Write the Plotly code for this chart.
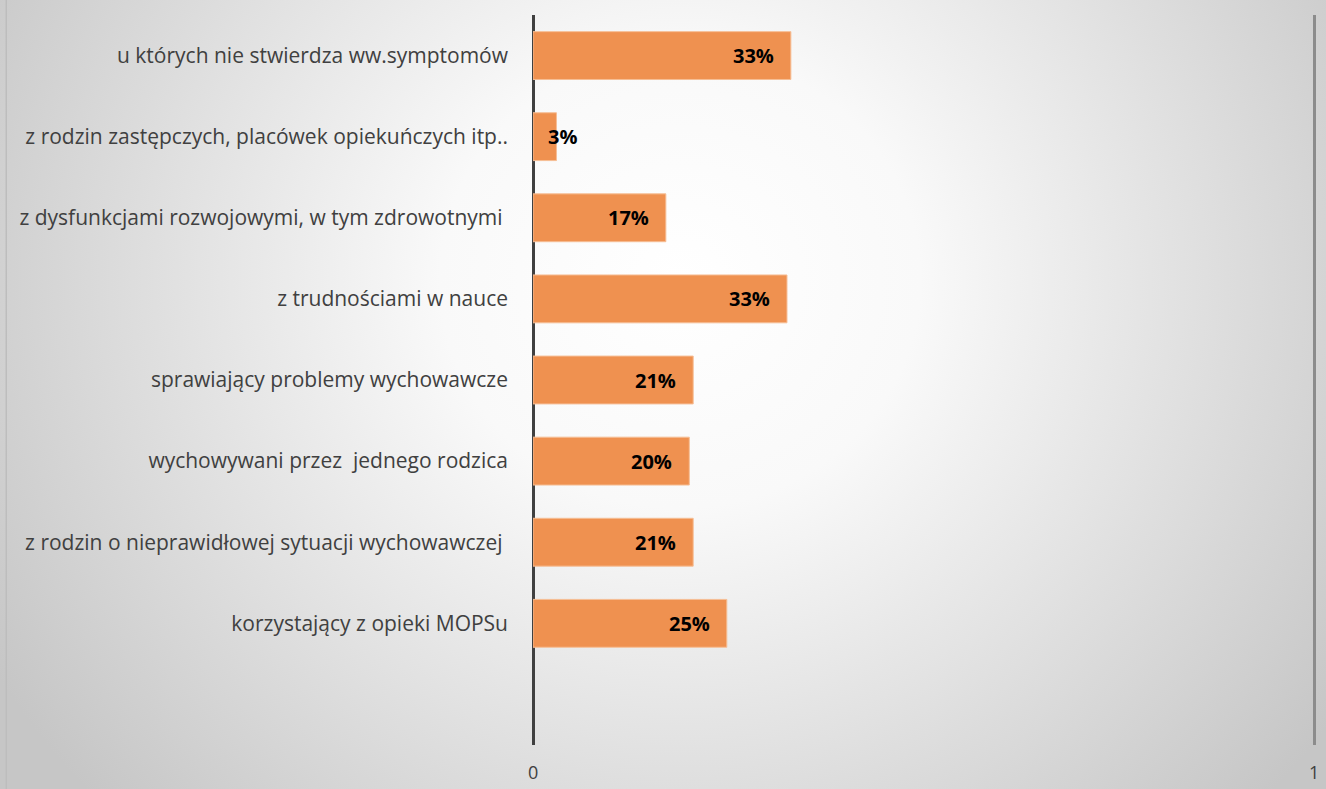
import plotly.graph_objects as go
import urllib.parse

categories = [
    "u których nie stwierdza ww.symptomów",
    "z rodzin zastępczych, placówek opiekuńczych itp..",
    "z dysfunkcjami rozwojowymi, w tym zdrowotnymi ",
    "z trudnościami w nauce",
    "sprawiający problemy wychowawcze",
    "wychowywani przez  jednego rodzica",
    "z rodzin o nieprawidłowej sytuacji wychowawczej ",
    "korzystający z opieki MOPSu",
    " ",
]
values = [0.33, 0.03, 0.17, 0.325, 0.205, 0.20, 0.205, 0.248, None]
labels = ["33%", "3%", "17%", "33%", "21%", "20%", "21%", "25%", ""]
x_ticks = [0, 1]
x_ticktext = ["0", "1"]

W, H = 1326, 789
ml, mr, mt, mb = 533, 10, 15, 44
pw, ph = W - ml - mr, H - mt - mb

svg = (
    f'<svg xmlns="http://www.w3.org/2000/svg" width="{W}" height="{H}" viewBox="0 0 {W} {H}" preserveAspectRatio="none">'
    '<defs><radialGradient id="g" gradientUnits="userSpaceOnUse" cx="680" cy="280" r="800" '
    'gradientTransform="translate(680 280) scale(1 0.95) translate(-680 -280)">'
    '<stop offset="0" stop-color="#ffffff"/><stop offset="0.3" stop-color="#f9f9f9"/>'
    '<stop offset="1" stop-color="#c6c6c6"/></radialGradient></defs>'
    f'<rect x="0" y="0" width="{W}" height="{H}" fill="url(#g)"/>'
    f'<rect x="5.5" y="-1" width="1.5" height="{H + 2}" fill="#bdbdbd"/></svg>'
)
src = "data:image/svg+xml;charset=utf-8," + urllib.parse.quote(svg)

fig = go.Figure()
fig.add_trace(go.Bar(
    x=values, y=categories, orientation="h",
    marker=dict(color="#EF9150", line=dict(color="#F6BE95", width=1)),
    hoverinfo="skip",
))

lab_font = dict(family="Open Sans", size=20, color="#000000")
annotations = []
for c, v, t in zip(categories, values, labels):
    if v is None:
        continue
    if v < 0.05:
        annotations.append(dict(x=0, y=c, xref="x", yref="y", text=f"<b>{t}</b>",
                                showarrow=False, xanchor="left", xshift=13, font=lab_font))
    else:
        annotations.append(dict(x=v, y=c, xref="x", yref="y", text=f"<b>{t}</b>",
                                showarrow=False, xanchor="right", xshift=-15, font=lab_font))

# x-axis tick labels placed below the plot
for tv, tt in zip(x_ticks, x_ticktext):
    annotations.append(dict(x=tv, y=0, xref="x", yref="paper", text=tt, showarrow=False,
                            xanchor="center", yanchor="middle", yshift=-27,
                            font=dict(family="Open Sans", size=18, color="#404040")))

fig.update_layout(
    width=W, height=H, autosize=False,
    margin=dict(l=ml, r=mr, t=mt, b=mb, pad=0, autoexpand=False),
    paper_bgcolor="rgba(0,0,0,0)",
    plot_bgcolor="rgba(0,0,0,0)",
    showlegend=False,
    bargap=0.41,
    annotations=annotations,
    images=[dict(source=src, xref="paper", yref="paper",
                 x=-ml / pw, y=1 + mt / ph, sizex=W / pw, sizey=H / ph,
                 xanchor="left", yanchor="top", sizing="stretch", layer="below")],
    xaxis=dict(range=[0, 1.002], tickmode="array", tickvals=x_ticks,
               showticklabels=False, automargin=False,
               showgrid=True, gridcolor="#8c8c8c", gridwidth=3,
               zeroline=True, zerolinecolor="#404040", zerolinewidth=3,
               showline=False, ticks="", fixedrange=True),
    yaxis=dict(categoryorder="array", categoryarray=categories[::-1], automargin=False,
               range=[-0.5, len(categories) - 0.5], autorange=False,
               showgrid=False, zeroline=False, showline=False, ticks="",
               ticklabelstandoff=24,
               tickfont=dict(family="Open Sans", size=21, color="#404040"),
               fixedrange=True),
)

fig.write_html("out.html", config={"displayModeBar": False},
               post_script="document.body.style.margin='0';document.body.style.overflow='hidden';")
